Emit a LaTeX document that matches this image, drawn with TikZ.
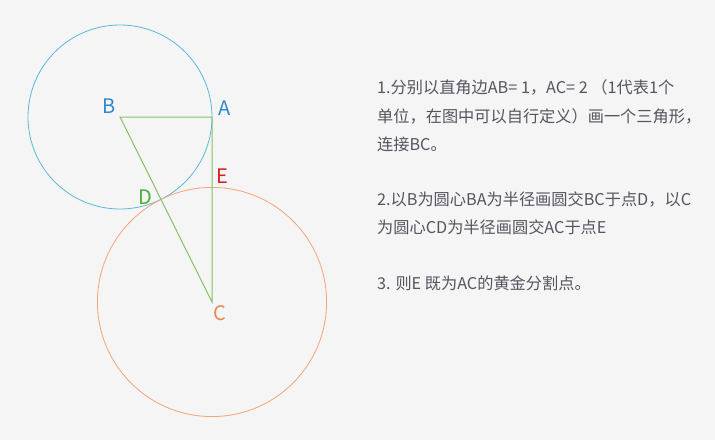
\documentclass[tikz,border=0pt]{standalone}
\usepackage{fontspec}
\setmainfont{Noto Sans CJK SC}
\usepackage{tikz}
\usetikzlibrary{positioning}

\definecolor{bgray}{HTML}{F5F5F5}
\definecolor{txtgray}{HTML}{555560}
\definecolor{ringblue}{HTML}{5CB8DA}
\definecolor{ringorange}{HTML}{F2A57A}
\definecolor{sidegreen}{HTML}{86C06A}
\definecolor{lblblue}{HTML}{2F88CC}
\definecolor{lblgreen}{HTML}{4AAE34}
\definecolor{lblred}{HTML}{D4201E}
\definecolor{lblorange}{HTML}{E8894E}

\tikzset{
    pt/.style = {font=\fontsize{20}{20}\selectfont, inner sep=0pt},
    txtline/.style = {anchor=west, inner sep=0pt, text=txtgray, font=\fontsize{16.2}{16.2}\selectfont},
    side/.style = {draw=sidegreen, line width=1pt},
}

\begin{document}
\begin{tikzpicture}[x=1pt, y=-1pt]
        \fill[bgray] (0,0) rectangle (715,440);
        \useasboundingbox (0,0) rectangle (715,440);

        \coordinate (B) at (120,117);
        \coordinate (A) at (212,117);
        \coordinate (C) at (212,302);
        \coordinate (D) at (160.97,199.38);
        \coordinate (E) at (212,187.39);

        \draw[ringblue, line width=0.8pt] (B) circle (92pt);
        \draw[ringorange, line width=0.8pt] (C) circle (114.6pt);

        \draw[side] (B) -- (A) -- (C) -- cycle;

        \node[pt, text=lblblue] (lB) at (109,106) {B};
        \node[pt, text=lblblue] (lA) at (225,108) {A};
        \node[pt, text=lblgreen] (lD) at (145,197) {D};
        \node[pt, text=lblred] (lE) at (222,176) {E};
        \node[pt, text=lblorange] (lC) at (220,313) {C};

        \node[txtline] (s1a) at (377,87) {1.分别以直角边AB= 1，AC= 2 （1代表1个};
        \node[txtline] (s1b) at (377,116) {单位，在图中可以自行定义）画一个三角形，};
        \node[txtline] (s1c) at (377,144) {连接BC。};
        \node[txtline] (s2a) at (377,199) {2.以B为圆心BA为半径画圆交BC于点D，以C};
        \node[txtline] (s2b) at (377,227) {为圆心CD为半径画圆交AC于点E};
        \node[txtline] (s3) at (377,283) {3. 则E 既为AC的黄金分割点。};
    \end{tikzpicture}
\end{document}
